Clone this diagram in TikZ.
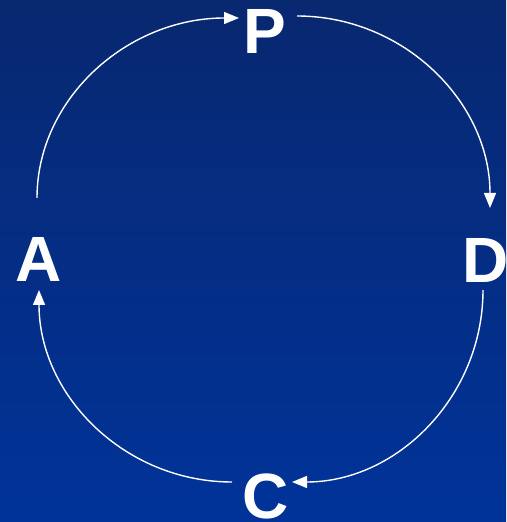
\documentclass[tikz,border=0pt]{standalone}
\usepackage{fontspec}
\setmainfont{Liberation Sans}
\usetikzlibrary{arrows.meta}
\definecolor{bgtop}{RGB}{8,40,112}
\definecolor{bgbot}{RGB}{0,51,153}
\begin{document}
\begin{tikzpicture}[x=1pt,y=1pt,
  letter/.style={text=white,font=\fontsize{64}{64}\selectfont\bfseries,anchor=base,inner sep=0pt},
  cyc/.style={draw=white,line width=1.4pt,-{Triangle[length=15pt,width=12pt]}}]
\shade[top color=bgtop,bottom color=bgbot] (0,0) rectangle (506,522);
\useasboundingbox (0,0) rectangle (506,522);
\node[letter] (P) at (265,468) {P};
\node[letter] (D) at (486,239) {D};
\node[letter] (A) at (38.5,240) {A};
\node[letter] (C) at (266,3) {C};
\coordinate (a1) at (37,324);
\coordinate (p2) at (297,506);
\coordinate (d2) at (483,232);
\coordinate (c2) at (232,40);
\draw[cyc] (a1) arc[start angle=180,end angle=90,x radius=202,y radius=180];
\draw[cyc] (p2) arc[start angle=90,end angle=0,x radius=193,y radius=192];
\draw[cyc] (d2) arc[start angle=0,end angle=-90,x radius=191,y radius=192];
\draw[cyc] (c2) arc[start angle=270,end angle=180,x radius=193,y radius=192];
\end{tikzpicture}
\end{document}
